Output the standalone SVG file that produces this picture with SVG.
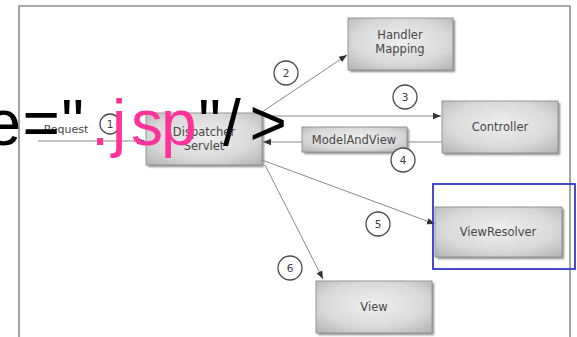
<svg xmlns="http://www.w3.org/2000/svg" width="577" height="337" viewBox="0 0 577 337">
  <defs>
    <radialGradient id="boxfill" cx="0.5" cy="0.45" r="0.75">
      <stop offset="0" stop-color="#efefef"/>
      <stop offset="0.6" stop-color="#d8d8d8"/>
      <stop offset="1" stop-color="#b0b0b0"/>
    </radialGradient>
    <filter id="shadow" x="-10%" y="-10%" width="130%" height="140%">
      <feGaussianBlur stdDeviation="1.2"/>
    </filter>
    <marker id="arrow" viewBox="0 0 10 10" refX="10" refY="5" markerWidth="8" markerHeight="8" markerUnits="userSpaceOnUse" orient="auto">
      <path d="M0,1 L10,5 L0,9 Z" fill="#333"/>
    </marker>
  </defs>
  <style>
    .shadow { fill: #8a8a8a; filter: url(#shadow); }
    .box { fill: url(#boxfill); stroke: #959595; stroke-width: 1; }
    .lbl { font-family: "DejaVu Sans", "Liberation Sans", sans-serif; font-size: 11.5px; fill: #464646; text-anchor: middle; }
    .num { font-family: "DejaVu Sans", "Liberation Sans", sans-serif; font-size: 10.5px; fill: #3c3c3c; text-anchor: middle; }
    .circ { fill: #fff; stroke: #4a4a4a; stroke-width: 1.3; }
    .conn { stroke: #8a8a8a; stroke-width: 1; fill: none; marker-end: url(#arrow); }
    .overlay { font-family: "Liberation Sans", Arial, sans-serif; font-size: 64px; fill: #000; }
  </style>
  <rect x="0" y="0" width="577" height="337" fill="#fff"/>
  <path d="M19,340 L19,6 L570,6 L570,340" fill="none" stroke="#8c8c8c" stroke-width="1.6"/>

  <g id="connectors">
    <line class="conn" x1="38" y1="141" x2="145" y2="141"/>
    <line class="conn" x1="262" y1="112" x2="347" y2="55"/>
    <line class="conn" x1="262" y1="116" x2="441" y2="116"/>
    <line class="conn" x1="442" y1="142" x2="263" y2="142"/>
    <line class="conn" x1="262" y1="160" x2="435" y2="224"/>
    <line class="conn" x1="265" y1="165" x2="323" y2="279"/>
  </g>

  <g id="handler-mapping">
    <rect class="shadow" x="350" y="20" width="105" height="52"/>
    <rect class="box" x="348" y="18" width="105" height="52"/>
    <text class="lbl" x="400" y="39">Handler</text>
    <text class="lbl" x="400" y="53">Mapping</text>
  </g>
  <g id="dispatcher-servlet">
    <rect class="shadow" x="148" y="115" width="116" height="52"/>
    <rect class="box" x="146" y="113" width="116" height="52"/>
    <text class="lbl" x="204" y="136">Dispatcher</text>
    <text class="lbl" x="204" y="150">Servlet</text>
  </g>
  <g id="controller">
    <rect class="shadow" x="444" y="103" width="116" height="52"/>
    <rect class="box" x="442" y="101" width="116" height="52"/>
    <text class="lbl" x="500" y="131">Controller</text>
  </g>
  <g id="model-and-view">
    <rect class="shadow" x="304" y="129" width="105" height="25"/>
    <rect class="box" x="302" y="127" width="105" height="25"/>
    <text class="lbl" x="354" y="144">ModelAndView</text>
  </g>
  <g id="view-resolver">
    <rect class="shadow" x="437" y="209" width="127" height="50"/>
    <rect class="box" x="435" y="207" width="127" height="50"/>
    <text class="lbl" x="498" y="236">ViewResolver</text>
  </g>
  <g id="view">
    <rect class="shadow" x="318" y="283" width="116" height="52"/>
    <rect class="box" x="316" y="281" width="116" height="52"/>
    <text class="lbl" x="374" y="311">View</text>
  </g>

  <g id="request-label">
    <text class="lbl" x="66" y="133" style="font-size:11px">Request</text>
  </g>
  <g id="step-1"><circle class="circ" cx="110" cy="124" r="10"/><text class="num" x="110" y="128">1</text></g>
  <g id="step-2"><circle class="circ" cx="286" cy="73" r="12"/><text class="num" x="286" y="77">2</text></g>
  <g id="step-3"><circle class="circ" cx="405" cy="97" r="12"/><text class="num" x="405" y="101">3</text></g>
  <g id="step-4"><circle class="circ" cx="403" cy="160" r="12"/><text class="num" x="403" y="164">4</text></g>
  <g id="step-5"><circle class="circ" cx="378" cy="224" r="12"/><text class="num" x="378" y="228">5</text></g>
  <g id="step-6"><circle class="circ" cx="290" cy="268" r="12"/><text class="num" x="290" y="272">6</text></g>

  <rect id="highlight" x="433" y="184" width="142" height="85" fill="none" stroke="#3535d0" stroke-width="1.8"/>

  <g id="overlay-text">
    <text class="overlay" y="145"><tspan x="-14.5 22.6 61.3">e="</tspan><tspan fill="#ff3399" x="91.2 112 131 161">.jsp</tspan><tspan x="198.3 223 249.6">"/&gt;</tspan></text>
  </g>
</svg>
